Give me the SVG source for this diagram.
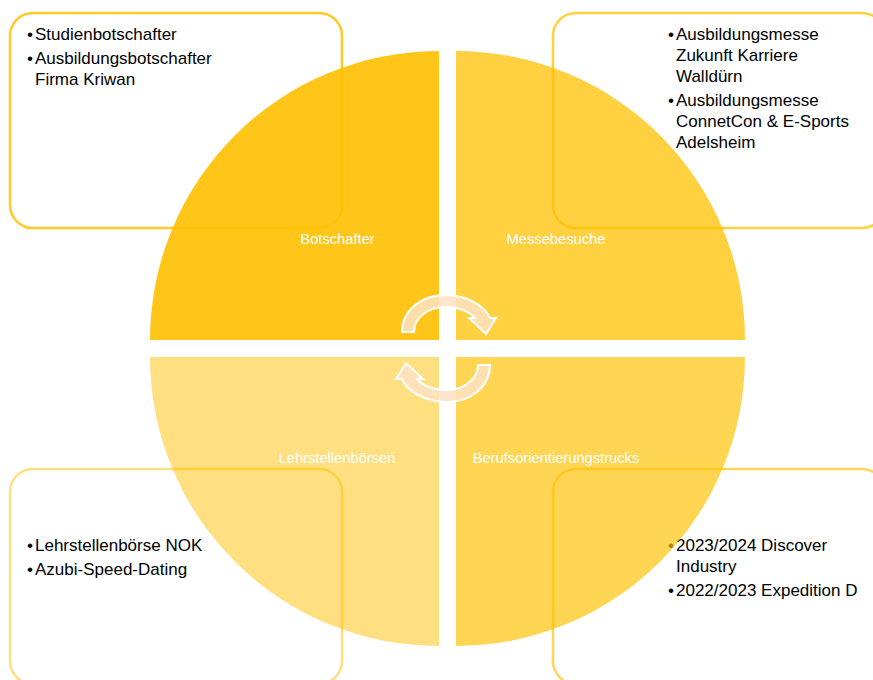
<svg xmlns="http://www.w3.org/2000/svg" width="873" height="680" viewBox="0 0 873 680">
  <style>
    .box { fill: #ffffff; stroke: #ffc000; stroke-width: 2.5; }
    .item { font-family: "Liberation Sans", Arial, sans-serif; font-size: 17px; fill: #000000; }
    .label { font-family: "Liberation Sans", Arial, sans-serif; font-size: 14.7px; fill: #ffffff; text-anchor: middle; }
    .quad { fill: #ffc000; }
    .cycle { fill: #fde2c2; fill-opacity: 0.85; stroke: #ffffff; stroke-width: 2; stroke-linejoin: miter; }
  </style>
  <rect width="873" height="680" fill="#ffffff"/>

  <!-- outer text panels -->
  <g id="panel-botschafter">
    <rect class="box" x="10" y="13" width="332" height="215" rx="23" stroke-opacity="0.85"/>
    <text class="item" x="27" y="40">•</text>
    <text class="item" x="35" y="40">Studienbotschafter</text>
    <text class="item" x="27" y="64">•</text>
    <text class="item" x="35" y="64">Ausbildungsbotschafter</text>
    <text class="item" x="35" y="85">Firma Kriwan</text>
  </g>
  <g id="panel-messebesuche">
    <rect class="box" x="553" y="13" width="332" height="215" rx="23" stroke-opacity="0.75"/>
    <text class="item" x="668" y="40">•</text>
    <text class="item" x="676" y="40">Ausbildungsmesse</text>
    <text class="item" x="676" y="61">Zukunft Karriere</text>
    <text class="item" x="676" y="82">Walldürn</text>
    <text class="item" x="668" y="106">•</text>
    <text class="item" x="676" y="106">Ausbildungsmesse</text>
    <text class="item" x="676" y="127">ConnetCon &amp; E-Sports</text>
    <text class="item" x="676" y="148">Adelsheim</text>
  </g>
  <g id="panel-lehrstellenboersen">
    <rect class="box" x="10" y="469" width="332" height="215" rx="23" stroke-opacity="0.5"/>
    <text class="item" x="27" y="551">•</text>
    <text class="item" x="35" y="551">Lehrstellenbörse NOK</text>
    <text class="item" x="27" y="575">•</text>
    <text class="item" x="35" y="575">Azubi-Speed-Dating</text>
  </g>
  <g id="panel-berufsorientierungstrucks">
    <rect class="box" x="553" y="469" width="332" height="215" rx="23" stroke-opacity="0.65"/>
    <text class="item" x="668" y="551">•</text>
    <text class="item" x="676" y="551">2023/2024 Discover</text>
    <text class="item" x="676" y="572">Industry</text>
    <text class="item" x="668" y="596">•</text>
    <text class="item" x="676" y="596">2022/2023 Expedition D</text>
  </g>

  <!-- quadrants of the cycle matrix -->
  <g id="node-botschafter">
    <path class="quad" fill-opacity="0.9" d="M439,340 L150,340 A289,289 0 0 1 439,51 Z"/>
    <text class="label" x="337.5" y="244">Botschafter</text>
  </g>
  <g id="node-messebesuche">
    <path class="quad" fill-opacity="0.75" d="M456,340 L456,51 A289,289 0 0 1 745,340 Z"/>
    <text class="label" x="556" y="244">Messebesuche</text>
  </g>
  <g id="node-berufsorientierungstrucks">
    <path class="quad" fill-opacity="0.67" d="M456,357 L745,357 A289,289 0 0 1 456,646 Z"/>
    <text class="label" x="556" y="463">Berufsorientierungstrucks</text>
  </g>
  <g id="node-lehrstellenboersen">
    <path class="quad" fill-opacity="0.5" d="M439,357 L439,646 A289,289 0 0 1 150,357 Z"/>
    <text class="label" x="337" y="463">Lehrstellenbörsen</text>
  </g>

  <!-- cycle arrows in the centre -->
  <g id="connectors">
    <defs>
      <path id="cycle-arrow" d="M402,332 C402,310 422,295 445,295 C466,295 484,305 490,318 L496,318 L486,334 L469,318 L475,318 C470,312 459,307 445,307 C428,307 414,318 414,332 Z"/>
    </defs>
    <use href="#cycle-arrow" class="cycle"/>
    <use href="#cycle-arrow" class="cycle" transform="rotate(180 446 348.5)"/>
  </g>
</svg>
